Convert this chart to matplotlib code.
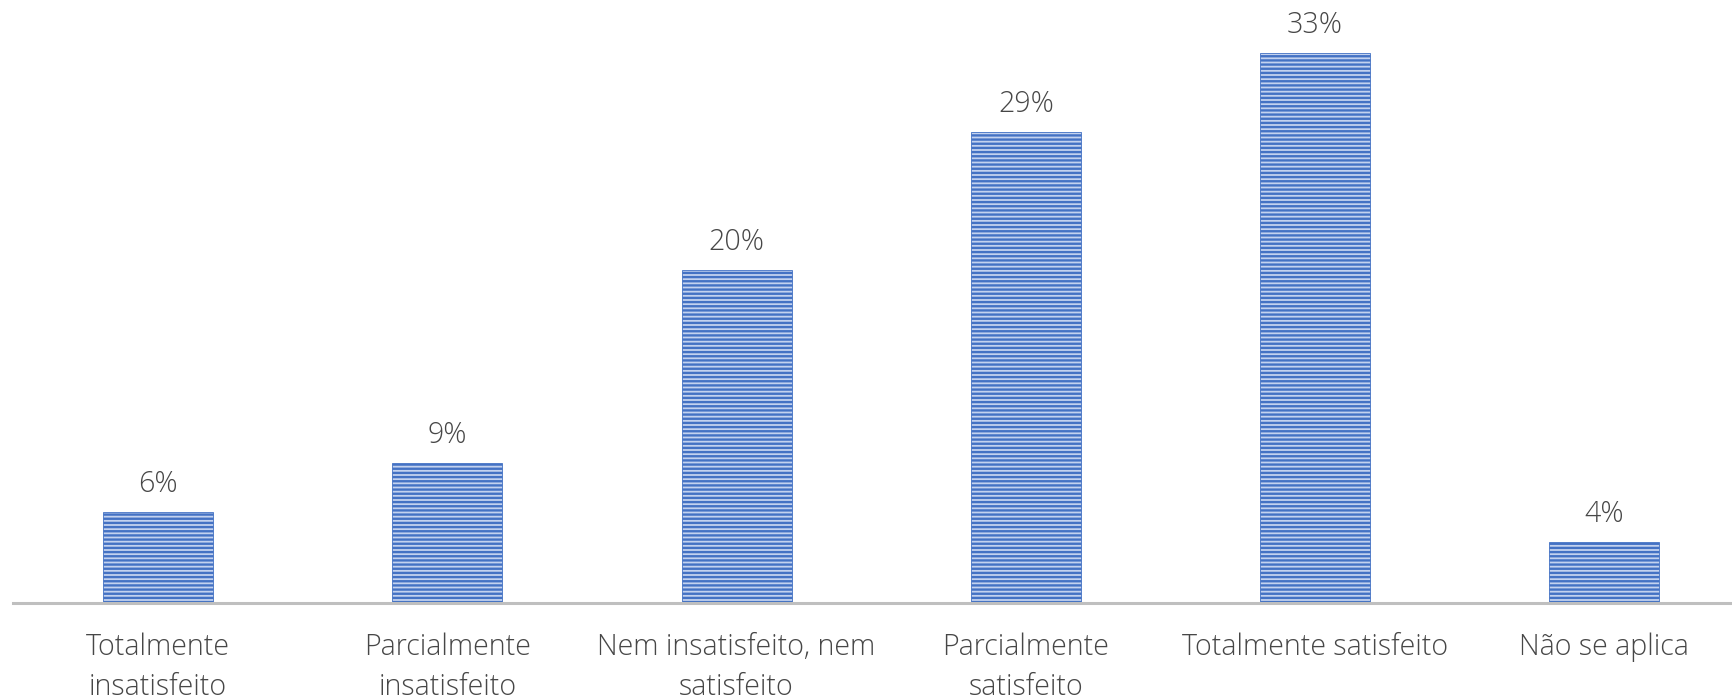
import matplotlib
matplotlib.use("Agg")
import matplotlib.pyplot as plt

categories = ["Totalmente\ninsatisfeito", "Parcialmente\ninsatisfeito", "Nem insatisfeito, nem\nsatisfeito",
              "Parcialmente\nsatisfeito", "Totalmente satisfeito", "Não se aplica"]
values = [5.5, 8.5, 20.2, 28.6, 33.4, 3.7]
labels = ["6%", "9%", "20%", "29%", "33%", "4%"]

W, H = 1732, 697
fig = plt.figure(figsize=(W / 100, H / 100), dpi=100)
plt.rcParams['hatch.linewidth'] = 1.7

left = 13.4 / W
right = 1749 / W
bottom = 1 - 603 / H
ymax = 36
unit = (603 - 53) / 33.4
height = ymax * unit / H
ax = fig.add_axes([left, bottom, right - left, height])

x = list(range(len(values)))
ax.bar(x, values, width=0.38, color="#C3D2EF", edgecolor="#4472C4", linewidth=0.6, hatch="----")
ax.set_xlim(-0.5, 5.5)
ax.set_ylim(0, ymax)

txtc = "#474747"
font = "Open Sans"
for xi, v, lab in zip(x, values, labels):
    ax.annotate(lab, (xi, v), xytext=(0, 13), textcoords="offset pixels", ha="center", va="bottom",
                fontsize=20.6, color=txtc, family=font, weight="light")

for s in ["top", "right", "left"]:
    ax.spines[s].set_visible(False)
ax.spines["bottom"].set_color("#BFBFBF")
ax.spines["bottom"].set_linewidth(2.2)
ax.set_yticks([])
ax.set_xticks(x)
ax.set_xticklabels(categories, fontsize=20.6, color=txtc, family=font, weight="light", linespacing=1.48)
ax.tick_params(axis="x", length=0, pad=21)

fig.savefig("out.png", dpi=100)
